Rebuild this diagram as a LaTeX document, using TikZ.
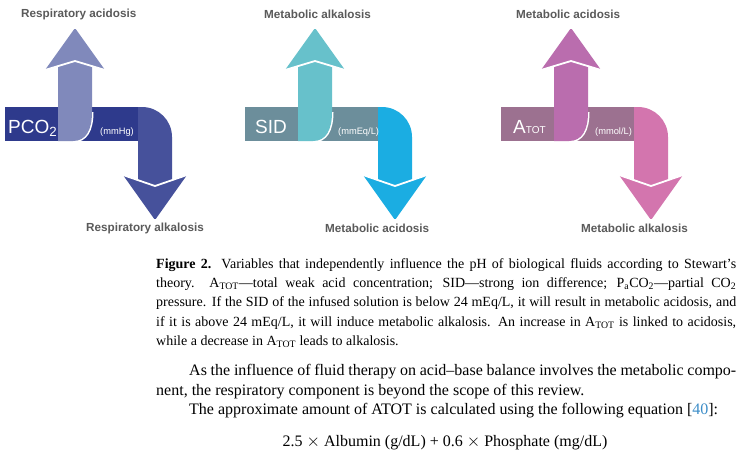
\documentclass[tikz,border=0pt]{standalone}
\usepackage{fontspec}
\setmainfont{Liberation Serif}
\newfontfamily\labfont{Liberation Sans}
\definecolor{labgray}{HTML}{5A5A5A}
\definecolor{refblue}{HTML}{3C8DC8}
\definecolor{gAbar}{HTML}{2E3A8C}
\definecolor{gAup}{HTML}{8089BB}
\definecolor{gAdown}{HTML}{46519B}
\definecolor{gBbar}{HTML}{6C8E9B}
\definecolor{gBup}{HTML}{67C1CB}
\definecolor{gBdown}{HTML}{1BADE2}
\definecolor{gCbar}{HTML}{9C7190}
\definecolor{gCup}{HTML}{BA6DAE}
\definecolor{gCdown}{HTML}{D375AE}
\tikzset{
  outcome/.style={font=\labfont\bfseries\fontsize{11.7}{13}\selectfont, text=labgray, anchor=west, inner sep=0pt},
  varname/.style={font=\labfont\fontsize{19}{19}\selectfont, text=white, anchor=base west, inner sep=0pt},
  unitlab/.style={font=\labfont\fontsize{9.3}{10}\selectfont, text=white, anchor=base west, inner sep=0pt},
  capline/.style={anchor=base west, inner sep=0pt, font=\fontsize{14}{17}\selectfont},
  bodyline/.style={anchor=base west, inner sep=0pt, font=\fontsize{16}{19}\selectfont},
  gap/.style={white, line width=1.8pt},
}
\newcommand\drawgroup[4]{%
\begin{scope}[xshift=#1pt]
  \fill[#2] (5,107) rectangle (140,141);
  \draw[white, line width=3pt] (92,112) .. controls (92,130) and (86,141) .. (73,141);
  \fill[#3] (58,66.3) -- (75,61) -- (92,66.3) -- (92,112) .. controls (92,130) and (86,141) .. (73,141) -- (58,141) -- cycle;
  \fill[#3, rounded corners=1.5pt] (45,70) -- (75,28) -- (105,70) -- (75,61) -- cycle;
  \draw[gap] (45,70) -- (75,61) -- (105,70);
  \fill[#4] (138,107) -- (142,107) .. controls (158.6,107) and (172,120.4) .. (172,137) -- (172,180.7) -- (155,186) -- (138,180.7) -- cycle;
  \fill[#4, rounded corners=1.5pt] (123,175) -- (155,186) -- (187,175) -- (155,220) -- cycle;
  \draw[gap] (123,175) -- (155,186) -- (187,175);
\end{scope}}
\begin{document}
\begin{tikzpicture}[x=1pt,y=-1pt]
\fill[white] (0,0) rectangle (754,456);
\useasboundingbox (0,0) rectangle (754,456);
% arrow groups
\drawgroup{0}{gAbar}{gAup}{gAdown}
\drawgroup{240}{gBbar}{gBup}{gBdown}
\drawgroup{496}{gCbar}{gCup}{gCdown}
% group texts
\node[varname] (pco) at (8,133.5) {PCO\textsubscript{2}};
\node[unitlab] (mmhg) at (100,134) {(mmHg)};
\node[varname] (sid) at (255,133.5) {SID};
\node[unitlab] (mmeq) at (338,134) {(mmEq/L)};
\node[varname] (atot) at (513,133.5) {A{\fontsize{10}{10}\selectfont TOT}};
\node[unitlab] (mmol) at (595,134) {(mmol/L)};
\node[outcome] (ra) at (21,14) {Respiratory acidosis};
\node[outcome] (rk) at (86,228) {Respiratory alkalosis};
\node[outcome] (mk1) at (264,14) {Metabolic alkalosis};
\node[outcome] (ma1) at (325,228) {Metabolic acidosis};
\node[outcome] (ma2) at (516,14) {Metabolic acidosis};
\node[outcome] (mk2) at (581,228) {Metabolic alkalosis};
% caption
\node[capline] (c1) at (156,268.5) {\makebox[580pt][s]{\textbf{Figure 2.} Variables that independently influence the pH of biological fluids according to Stewart's}};
\node[capline] (c2) at (156,287.7) {\makebox[580pt][s]{theory.\ \ A\textsubscript{TOT}---total weak acid concentration; SID---strong ion difference; P\textsubscript{a}CO\textsubscript{2}---partial CO\textsubscript{2}}};
\node[capline] (c3) at (156,306.9) {\makebox[580pt][s]{pressure. If the SID of the infused solution is below 24 mEq/L, it will result in metabolic acidosis, and}};
\node[capline] (c4) at (156,326.1) {\makebox[580pt][s]{if it is above 24 mEq/L, it will induce metabolic alkalosis. An increase in A\textsubscript{TOT} is linked to acidosis,}};
\node[capline] (c5) at (156,345.3) {while a decrease in A\textsubscript{TOT} leads to alkalosis.};
% body
\node[bodyline] (b1) at (189,375.5) {\makebox[547pt][s]{As the influence of fluid therapy on acid--base balance involves the metabolic compo-}};
\node[bodyline] (b2) at (156,395) {nent, the respiratory component is beyond the scope of this review.};
\node[bodyline] (b3) at (189,414.5) {The approximate amount of ATOT is calculated using the following equation [\textcolor{refblue}{40}]:};
\node[bodyline, anchor=base] (eq) at (445,446) {2.5 $\times$ Albumin (g/dL) + 0.6 $\times$ Phosphate (mg/dL)};
\end{tikzpicture}
\end{document}
